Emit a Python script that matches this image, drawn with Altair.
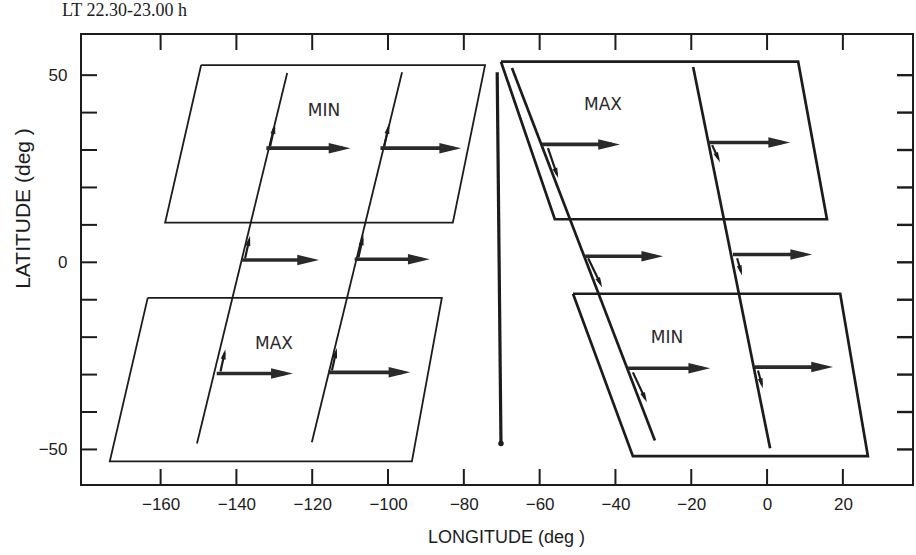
import math
import altair as alt
import pandas as pd

# ---------------- data ----------------
title_text = ["LT 22.30-23.00 h"]

# parallelogram regions (closed polygons), lon / lat of corners
box_names = ["left_min", "left_max", "right_max", "right_min"]
box_lons = [
    [-149.3, -74.4, -82.9, -158.8, -149.3],
    [-163.4, -85.8, -93.7, -173.4, -163.4],
    [-70.2, 8.2, 15.8, -56.0, -70.2],
    [-51.2, 19.3, 26.6, -35.4, -51.2],
]
box_lats = [
    [52.7, 52.7, 10.6, 10.6, 52.7],
    [-9.5, -9.5, -53.2, -53.2, -9.5],
    [53.6, 53.6, 11.5, 11.5, 53.6],
    [-8.4, -8.4, -51.8, -51.8, -8.4],
]
box_side = ["left", "left", "right", "right"]

# long slanted lines (start / end)
line_lon0 = [-126.6, -96.3, -67.3, -19.5]
line_lat0 = [50.6, 50.8, 51.9, 52.2]
line_lon1 = [-150.4, -120.1, -29.6, 0.8]
line_lat1 = [-48.4, -48.1, -47.6, -49.7]
line_side = ["left", "left", "right", "right"]

# central vertical line
mid_lon0 = [-71.2]
mid_lat0 = [50.8]
mid_lon1 = [-70.2]
mid_lat1 = [-48.4]

# horizontal arrows
arrow_lon0 = [-132.1, -102.0, -138.7, -108.8, -145.2, -115.8, -59.4, -15.6, -48.0, -9.0, -36.7, -3.2]
arrow_lon1 = [-109.9, -80.7, -118.2, -89.0, -125.1, -94.1, -38.8, 6.1, -27.4, 11.9, -15.0, 17.4]
arrow_lat = [30.5, 30.5, 0.6, 0.8, -29.7, -29.4, 31.5, 32.0, 1.6, 2.1, -28.3, -28.0]

# small arrows along the slanted lines
small_lon0 = [-131.1, -101.0, -137.7, -107.8, -144.2, -114.8, -57.8, -14.5, -47.2, -7.9, -35.4, -2.4]
small_lat0 = [31.0, 31.0, 1.1, 1.3, -29.2, -28.9, 30.5, 31.3, 1.1, 1.1, -29.4, -28.9]
small_lon1 = [-129.8, -99.7, -136.4, -106.5, -142.9, -113.5, -55.1, -12.4, -43.5, -6.6, -31.7, -1.1]
small_lat1 = [37.0, 37.0, 7.1, 7.3, -23.2, -22.9, 22.5, 26.7, -6.7, -3.5, -37.4, -33.7]

# region labels
label_text = ["MIN", "MAX", "MAX", "MIN"]
label_lon = [-116.9, -130.1, -43.3, -26.4]
label_lat = [40.4, -21.7, 42.0, -20.3]

# axes
x_label_values = [-160, -140, -120, -100, -80, -60, -40, -20, 0, 20]
y_label_values = [-50, 0, 50]
y_tick_values = [-50, -40, -30, -20, -10, 0, 10, 20, 30, 40, 50]

# ---------------- layout ----------------
W, H = 832, 451
X_DOM = [-181, 38.5]
Y_DOM = [-59.5, 61]
kx = W / (X_DOM[1] - X_DOM[0])
ky = H / (Y_DOM[1] - Y_DOM[0])
INK = "#1c1c1c"
FONT = "Liberation Sans"
TICK = 16

xs = alt.Scale(domain=X_DOM, nice=False, zero=False)
ys = alt.Scale(domain=Y_DOM, nice=False, zero=False)

x_axis = alt.Axis(values=x_label_values, ticks=False, domain=False, grid=False,
                  labelFont=FONT, labelFontSize=17, labelColor=INK, labelPadding=11,
                  title="LONGITUDE (deg )", titleFont=FONT, titleFontSize=18,
                  titleFontWeight="normal", titleColor=INK, titleX=425, titleY=52,
                  titleBaseline="middle", titleAlign="center")
y_axis = alt.Axis(values=y_label_values, ticks=False, domain=False, grid=False,
                  labelFont=FONT, labelFontSize=17, labelColor=INK, labelPadding=14,
                  title="LATITUDE (deg )", titleFont=FONT, titleFontSize=21,
                  titleFontWeight="normal", titleColor=INK, titleX=-58, titleY=174,
                  titleAngle=270, titleBaseline="middle", titleAlign="center")


def X(f):
    return alt.X(f, type="quantitative", scale=xs, axis=x_axis)


def Y(f):
    return alt.Y(f, type="quantitative", scale=ys, axis=y_axis)


# ---------------- tables ----------------
rows = []
for name, lons, lats, side in zip(box_names, box_lons, box_lats, box_side):
    for i, (lo, la) in enumerate(zip(lons, lats)):
        rows.append({"box": name, "order": i, "lon": lo, "lat": la, "side": side})
boxes = pd.DataFrame(rows)

lines = pd.DataFrame({"lon0": line_lon0, "lat0": line_lat0, "lon1": line_lon1,
                      "lat1": line_lat1, "side": line_side})
mid = pd.DataFrame({"lon0": mid_lon0, "lat0": mid_lat0, "lon1": mid_lon1, "lat1": mid_lat1})

arrows = pd.DataFrame({"lon0": arrow_lon0, "lon1": arrow_lon1, "lat": arrow_lat})
arrows["shaft_end"] = arrows["lon1"] - 8 / kx
arrows["ang"] = 0

small = pd.DataFrame({"lon0": small_lon0, "lat0": small_lat0,
                      "lon1": small_lon1, "lat1": small_lat1})
dxp = (small["lon1"] - small["lon0"]) * kx
dyp = -(small["lat1"] - small["lat0"]) * ky
small["ang"] = [(math.degrees(math.atan2(b, a)) + 360) % 360 for a, b in zip(dxp, dyp)]
lenp = (dxp ** 2 + dyp ** 2) ** 0.5
small["lon_e"] = small["lon1"] - (dxp / lenp) * 4 / kx
small["lat_e"] = small["lat1"] + (dyp / lenp) * 4 / ky

labels = pd.DataFrame({"text": label_text, "lon": label_lon, "lat": label_lat})
xticks = pd.DataFrame({"v": x_label_values})
yticks = pd.DataFrame({"v": y_tick_values})
title_df = pd.DataFrame({"text": title_text})

HEAD = "M0,0L-1,-0.24L-1,0.24Z"

# ---------------- layers ----------------
box_layer = alt.Chart(boxes).mark_line(color=INK, strokeJoin="miter").encode(
    x=X("lon"), y=Y("lat"), detail="box:N", order="order:Q",
    strokeWidth=alt.StrokeWidth("side:N", scale=alt.Scale(domain=["left", "right"], range=[1.8, 2.7]), legend=None),
)

line_layer = alt.Chart(lines).mark_rule(color=INK).encode(
    x=X("lon0"), y=Y("lat0"), x2="lon1", y2="lat1",
    strokeWidth=alt.StrokeWidth("side:N", scale=alt.Scale(domain=["left", "right"], range=[1.6, 2.6]), legend=None),
)

mid_layer = alt.Chart(mid).mark_rule(color=INK, strokeWidth=3.2).encode(
    x=X("lon0"), y=Y("lat0"), x2="lon1", y2="lat1")
mid_dot = alt.Chart(mid).mark_point(filled=True, color=INK, size=30, opacity=1).encode(
    x=X("lon1"), y=Y("lat1"))

shaft_layer = alt.Chart(arrows).mark_rule(color="#2a2a2a", strokeWidth=3.6).encode(
    x=X("lon0"), x2="shaft_end", y=Y("lat"))
head_layer = alt.Chart(arrows).mark_point(shape=HEAD, filled=True, color="#2a2a2a",
                                         size=1900, opacity=1).encode(
    x=X("lon1"), y=Y("lat"), angle=alt.Angle("ang:Q", scale=None))

small_shaft = alt.Chart(small).mark_rule(color=INK, strokeWidth=2.2).encode(
    x=X("lon0"), y=Y("lat0"), x2="lon_e", y2="lat_e")
small_head = alt.Chart(small).mark_point(shape=HEAD, filled=True, color=INK,
                                        size=420, opacity=1).encode(
    x=X("lon1"), y=Y("lat1"), angle=alt.Angle("ang:Q", scale=None))

text_layer = alt.Chart(labels).mark_text(font="DejaVu Sans", fontSize=17, color="#2a2a2a",
                                         align="center", baseline="middle").encode(
    x=X("lon"), y=Y("lat"), text="text:N")

title_layer = alt.Chart(title_df).mark_text(font="Liberation Serif", fontSize=18, color=INK,
                                            align="left", baseline="alphabetic").encode(
    x=alt.value(-19), y=alt.value(-18), text="text:N")

tick_b = alt.Chart(xticks).mark_rule(color=INK, strokeWidth=2).encode(
    x=X("v"), y=alt.value(H), y2=alt.value(H - TICK))
tick_t = alt.Chart(xticks).mark_rule(color=INK, strokeWidth=2).encode(
    x=X("v"), y=alt.value(0), y2=alt.value(TICK))
tick_l = alt.Chart(yticks).mark_rule(color=INK, strokeWidth=2).encode(
    y=Y("v"), x=alt.value(0), x2=alt.value(TICK))
tick_r = alt.Chart(yticks).mark_rule(color=INK, strokeWidth=2.4).encode(
    y=Y("v"), x=alt.value(W), x2=alt.value(W - TICK))

chart = alt.layer(
    box_layer, line_layer, mid_layer, mid_dot, shaft_layer, head_layer,
    small_shaft, small_head, text_layer, tick_b, tick_t, tick_l, tick_r, title_layer,
).properties(
    width=W, height=H,
    autosize="none",
    background="white",
    padding={"left": 81, "top": 34, "right": 3, "bottom": 70},
).configure_view(stroke=INK, strokeWidth=2)

chart.save("out.html", embed_options={"renderer": "svg", "actions": False})
